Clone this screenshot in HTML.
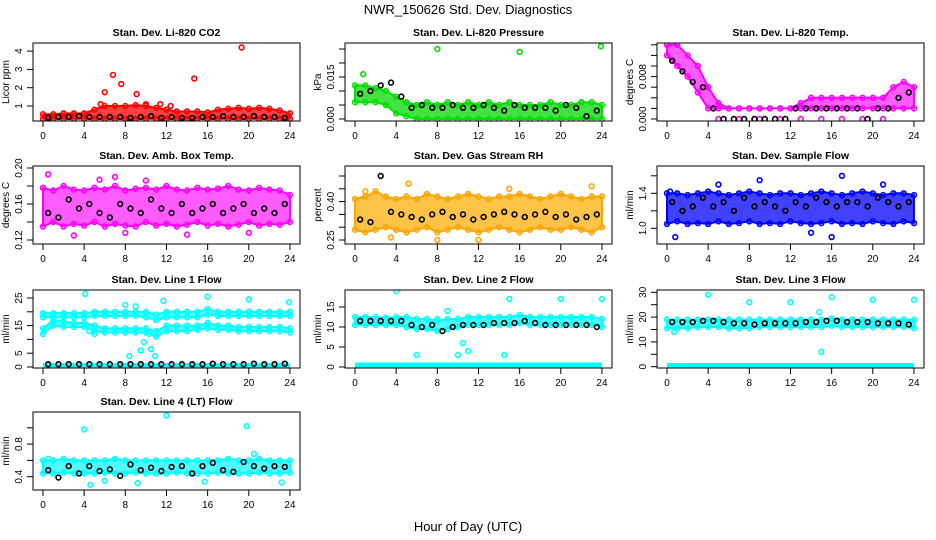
<!DOCTYPE html>
<html><head><meta charset="utf-8"><title>NWR_150626 Std. Dev. Diagnostics</title>
<style>html,body{margin:0;padding:0;background:#fff;}svg{display:block;font-family:"Liberation Sans",sans-serif;}</style>
</head><body>
<svg id="chart" width="936" height="540" viewBox="0 0 936 540" xmlns="http://www.w3.org/2000/svg">
<rect width="936" height="540" fill="#fff"/>
<text x="468" y="14" text-anchor="middle" font-size="13">NWR_150626  Std. Dev. Diagnostics</text>
<text x="468" y="531" text-anchor="middle" font-size="13">Hour of Day (UTC)</text>
</svg>
<script>
const hours=[0,1,2,3,4,5,6,7,8,9,10,11,12,13,14,15,16,17,18,19,20,21,22,23,24];
const halfHours=[0.5,1.5,2.5,3.5,4.5,5.5,6.5,7.5,8.5,9.5,10.5,11.5,12.5,13.5,14.5,15.5,16.5,17.5,18.5,19.5,20.5,21.5,22.5,23.5];
const xTicks=[0,4,8,12,16,20,24];

// Panel 1: CO2
const co2Hi=[0.55,0.55,0.6,0.6,0.6,0.8,1.0,1.0,1.0,1.05,1.0,0.9,0.8,0.7,0.7,0.7,0.65,0.8,0.85,0.9,0.85,0.9,0.85,0.75,0.6];
const co2Lo=[0.3,0.3,0.3,0.3,0.3,0.3,0.3,0.3,0.3,0.3,0.3,0.3,0.3,0.3,0.3,0.3,0.3,0.3,0.3,0.3,0.3,0.3,0.3,0.3,0.3];
const co2Black=[0.35,0.4,0.4,0.45,0.4,0.4,0.4,0.4,0.35,0.4,0.45,0.35,0.4,0.35,0.35,0.4,0.4,0.45,0.4,0.4,0.45,0.4,0.4,0.35];
const co2Out=[[5.6,1.1],[6,1.75],[6.8,2.7],[7.6,2.2],[9.1,1.65],[10,1.1],[11.4,1.1],[12.4,1.0],[14.7,2.5],[19.3,4.2]];
// Panel 2: Pressure
const presHi=[0.012,0.012,0.011,0.010,0.008,0.006,0.005,0.006,0.005,0.006,0.005,0.006,0.005,0.006,0.005,0.006,0.005,0.005,0.005,0.006,0.005,0.005,0.006,0.006,0.005];
const presLo=[0.006,0.006,0.006,0.005,0.002,0.001,0,0,0,0,0,0,0,0,0,0,0,0,0,0,0,0,0,0,0];
const presBlack=[0.009,0.010,0.012,0.013,0.008,0.004,0.005,0.004,0.004,0.005,0.004,0.004,0.005,0.004,0.003,0.005,0.004,0.004,0.004,0.003,0.005,0.004,0.001,0.003];
const presOut=[[0.8,0.016],[8,0.025],[16,0.024],[23.9,0.026]];
// Panel 3: Li-820 temp
const tempHi=[0.014,0.014,0.012,0.010,0.006,0.003,0.002,0.002,0.002,0.002,0.002,0.002,0.002,0.003,0.004,0.004,0.004,0.004,0.004,0.004,0.004,0.004,0.006,0.007,0.006];
const tempLo=[0.012,0.010,0.008,0.005,0.002,0.002,0.002,0.002,0.002,0.002,0.002,0.002,0.002,0.002,0.002,0.002,0.002,0.002,0.002,0.002,0.002,0.002,0.002,0.002,0.002];
const tempBlack=[0.011,0.009,0.007,0.006,0.002,0,0,0,0,0,0,0,0.002,0.002,0.002,0.002,0.002,0.002,0.002,0,0.002,0.002,0.004,0.005];
const tempOut=[[5,0],[7,0],[9,0],[11,0],[13,0],[15,0],[17,0],[19,0],[21,0]];
// Panel 4: Amb box temp
const ambHi=[0.178,0.175,0.18,0.176,0.175,0.178,0.176,0.18,0.175,0.177,0.178,0.176,0.18,0.176,0.175,0.178,0.176,0.177,0.18,0.176,0.175,0.178,0.176,0.175,0.17];
const ambLo=[0.135,0.14,0.135,0.138,0.136,0.14,0.135,0.138,0.136,0.135,0.14,0.136,0.138,0.135,0.137,0.14,0.136,0.138,0.135,0.137,0.14,0.136,0.138,0.137,0.14];
const ambBlack=[0.15,0.145,0.165,0.155,0.16,0.15,0.145,0.16,0.155,0.15,0.165,0.155,0.15,0.16,0.15,0.155,0.16,0.15,0.155,0.16,0.15,0.155,0.15,0.16];
const ambOut=[[0.5,0.193],[7,0.19],[10,0.186],[3,0.125],[8,0.128],[14,0.126],[20,0.128],[5.5,0.187]];
// Panel 5: RH
const rhHi=[0.41,0.42,0.44,0.42,0.41,0.42,0.41,0.43,0.42,0.41,0.42,0.43,0.42,0.41,0.42,0.42,0.43,0.42,0.41,0.42,0.43,0.42,0.41,0.42,0.42];
const rhLo=[0.29,0.28,0.29,0.3,0.29,0.28,0.29,0.3,0.28,0.29,0.3,0.29,0.28,0.29,0.3,0.29,0.28,0.29,0.3,0.29,0.29,0.3,0.29,0.28,0.3];
const rhBlack=[0.33,0.32,0.50,0.36,0.35,0.34,0.33,0.35,0.36,0.34,0.35,0.33,0.34,0.35,0.36,0.35,0.34,0.35,0.36,0.34,0.35,0.33,0.34,0.35];
const rhOut=[[1,0.44],[5.2,0.47],[3.5,0.26],[8,0.25],[15,0.45],[23,0.46],[12,0.25]];
// Panel 6: Sample flow
const sfHi=[1.4,1.4,1.38,1.4,1.42,1.4,1.38,1.4,1.42,1.4,1.38,1.4,1.4,1.38,1.4,1.42,1.4,1.38,1.4,1.42,1.4,1.38,1.4,1.4,1.38];
const sfLo=[1.05,1.08,1.05,1.06,1.05,1.08,1.05,1.06,1.08,1.05,1.06,1.05,1.08,1.06,1.05,1.06,1.08,1.05,1.06,1.05,1.08,1.06,1.05,1.08,1.06];
const sfBlack=[1.3,1.2,1.25,1.35,1.25,1.3,1.2,1.35,1.25,1.3,1.25,1.2,1.3,1.25,1.35,1.3,1.25,1.3,1.3,1.25,1.35,1.3,1.25,1.3];
const sfOut=[[0.3,1.42],[9,1.55],[17,1.6],[16,0.9],[0.8,0.9],[14,0.95],[5,1.5],[21,1.5]];
// Panel 7: Line 1
const l1UpHi=[19.5,19.5,19.5,19.5,19.5,20,20,20,20,20,20,19,20,20,20,20,21,20,20,20,20,20,20,20,20];
const l1UpLo=[18,18,18,18,18,18.5,18.5,18.5,18.5,18.5,18,17,18,18,18,18,19,18.5,18.5,18.5,18.5,18.5,18.5,18.5,18.5];
const l1LowHi=[14,17,16.5,16,16,15,14,14,14,14,14,13,15,15,15,15,16,15,15,14.5,14.5,14.5,14.5,14.5,14];
const l1LowLo=[12,15,14.5,14.5,14.5,13,12.5,12.5,12.5,12.5,12.5,11,13,13,13,13.5,14,13.5,13.5,13,13,13,13,13,12.5];
const l1Floor=[0.5,0.5,0.5,0.5,0.5,0.5,0.5,0.5,0.5,0.5,0.5,0.5,0.5,0.5,0.5,0.5,0.5,0.5,0.5,0.5,0.5,0.5,0.5,0.5,0.5];
const l1Black=[1,1,1,1,1,1,1,1,1,1,1,1,1,1,1,1,1.2,1,1,1,1.2,1,1,1.2];
const l1Out=[[4.1,26.5],[8,22.5],[9,22],[8.4,4],[9.5,6],[9.8,9],[10.5,6.5],[10.9,4],[10.3,12],[11.7,24],[16,25.5],[20,24.5],[23.9,23.5],[4.5,13],[5,12]];
// Panel 8: Line 2
const l2Hi=[12.5,12.5,12.5,12.3,12.5,12.5,12,12,11.5,12,12,12.5,12.5,12.5,12.5,12.5,13,12.5,12.5,12.5,12.5,12.5,12.5,12.5,12];
const l2Lo=[10.5,10.5,10.5,10.5,10.5,10,9.5,9.5,9,9.5,10,10.5,10.5,10.5,10.5,10.5,11,10.5,10.5,10.5,10.5,10.5,10.5,10.5,10];
const l2Floor=[0.5,0.5,0.5,0.5,0.5,0.5,0.5,0.5,0.5,0.5,0.5,0.5,0.5,0.5,0.5,0.5,0.5,0.5,0.5,0.5,0.5,0.5,0.5,0.5,0.5];
const l2Black=[11.5,11.5,11.5,11.5,11.5,10.5,10,10.5,9,10,10.5,10.5,10.5,11,11,11,11.5,11,10.5,10.5,10.5,10.5,10.5,10];
const l2Out=[[4,19],[8,12],[9,14],[10.5,6],[11,4],[10,3],[15,17],[20,17],[24,17],[6,3],[14.5,3]];
// Panel 9: Line 3
const l3Hi=[19,19,19,19,19,19,19,19,19,19,19,19,19,19,19,19,19.5,19,19,19,19,19,19,19,19];
const l3Lo=[15.5,15.5,15.5,16,16,16,15.5,15.5,15.5,16,16,16,16,16,16,16,16.5,16,16,16,16,16,16,16,15.5];
const l3Floor=[0.5,0.5,0.5,0.5,0.5,0.5,0.5,0.5,0.5,0.5,0.5,0.5,0.5,0.5,0.5,0.5,0.5,0.5,0.5,0.5,0.5,0.5,0.5,0.5,0.5];
const l3Black=[18,18,18,18.5,18.5,18,17.5,17.5,17,17.5,17.5,17.5,17.5,18,18,18.5,18.5,18,18,18,17.5,17.5,17.5,17];
const l3Out=[[4,29],[8,26],[12,26],[16,28],[20,27],[24,27],[15,6],[14.8,22],[0.7,14]];
// Panel 10: Line 4 (LT)
const l4Hi=[0.6,0.6,0.62,0.6,0.6,0.6,0.6,0.62,0.6,0.6,0.6,0.6,0.6,0.6,0.6,0.6,0.6,0.6,0.62,0.6,0.6,0.62,0.6,0.6,0.6];
const l4Lo=[0.44,0.44,0.45,0.44,0.44,0.44,0.45,0.44,0.44,0.45,0.44,0.44,0.44,0.45,0.44,0.44,0.44,0.45,0.44,0.44,0.44,0.45,0.44,0.44,0.45];
const l4Black=[0.48,0.39,0.53,0.44,0.53,0.47,0.49,0.41,0.55,0.48,0.51,0.47,0.52,0.53,0.44,0.53,0.57,0.48,0.46,0.58,0.53,0.5,0.53,0.52];
const l4Out=[[4,0.98],[12,1.15],[19.8,1.02],[0.5,0.62],[6,0.35],[9.2,0.32],[15.7,0.34],[20.5,0.68],[4.6,0.3],[23.2,0.33]];

const colLeft=[33,345,657];
const rowTop=[43,166,290,412];
const panels=[
 {name:'co2',title:'Stan. Dev. Li-820 CO2',yt:'Licor ppm',col:0,row:0,v0:1,p0:106,k:18.3,ticks:[1,2,3,4],labels:['1','2','3','4'],color:'#ff0000',fill:'#ff2020',bands:[[co2Lo,co2Hi]],floors:[],out:co2Out,black:co2Black},
 {name:'pressure',title:'Stan. Dev. Li-820 Pressure',yt:'kPa',col:1,row:0,v0:0,p0:119,k:2800,ticks:[0,0.005,0.01,0.015,0.02,0.025],labels:['0.000','','','0.015','',''],color:'#00e000',fill:'#22dd22',bands:[[presLo,presHi]],floors:[],out:presOut,black:presBlack},
 {name:'li820-temp',title:'Stan. Dev. Li-820 Temp.',yt:'degrees C',col:2,row:0,v0:0,p0:119,k:5300,ticks:[0,0.002,0.004,0.006,0.008,0.01,0.012,0.014],labels:['0.000','','','','0.008','','',''],color:'#ff00ff',fill:'#ff40ff',bands:[[tempLo,tempHi]],floors:[],out:tempOut,black:tempBlack},
 {name:'amb-box-temp',title:'Stan. Dev. Amb. Box Temp.',yt:'degrees C',col:0,row:1,v0:0.16,p0:204,k:900,ticks:[0.12,0.14,0.16,0.18,0.2],labels:['0.12','','0.16','','0.20'],color:'#ff00ff',fill:'#ff40ff',bands:[[ambLo,ambHi]],floors:[],out:ambOut,black:ambBlack},
 {name:'gas-stream-rh',title:'Stan. Dev. Gas Stream RH',yt:'percent',col:1,row:1,v0:0.25,p0:240,k:256,ticks:[0.25,0.3,0.35,0.4,0.45,0.5],labels:['0.25','','','0.40','',''],color:'#ffa500',fill:'#ffb828',bands:[[rhLo,rhHi]],floors:[],out:rhOut,black:rhBlack},
 {name:'sample-flow',title:'Stan. Dev. Sample Flow',yt:'ml/min',col:2,row:1,v0:1.4,p0:193.3,k:87.5,ticks:[1.0,1.2,1.4,1.6],labels:['1.0','','1.4',''],color:'#0000ff',fill:'#2020ff',bands:[[sfLo,sfHi]],floors:[],out:sfOut,black:sfBlack},
 {name:'line1-flow',title:'Stan. Dev. Line 1 Flow',yt:'ml/min',col:0,row:2,v0:0,p0:367,k:2.76,ticks:[0,5,10,15,20,25],labels:['0','5','','15','','25'],color:'#00ffff',fill:'#30ffff',bands:[[l1UpLo,l1UpHi],[l1LowLo,l1LowHi]],floors:[l1Floor],out:l1Out,black:l1Black},
 {name:'line2-flow',title:'Stan. Dev. Line 2 Flow',yt:'ml/min',col:1,row:2,v0:0,p0:367,k:4,ticks:[0,5,10,15],labels:['0','5','10','15'],color:'#00ffff',fill:'#30ffff',bands:[[l2Lo,l2Hi]],floors:[l2Floor],out:l2Out,black:l2Black},
 {name:'line3-flow',title:'Stan. Dev. Line 3 Flow',yt:'ml/min',col:2,row:2,v0:0,p0:366.7,k:2.48,ticks:[0,5,10,15,20,25,30],labels:['0','','10','','20','','30'],color:'#00ffff',fill:'#30ffff',bands:[[l3Lo,l3Hi]],floors:[l3Floor],out:l3Out,black:l3Black},
 {name:'line4-lt-flow',title:'Stan. Dev. Line 4 (LT) Flow',yt:'ml/min',col:0,row:3,v0:0.4,p0:476.7,k:81.5,ticks:[0.4,0.6,0.8,1.0],labels:['0.4','','0.8',''],color:'#00ffff',fill:'#30ffff',bands:[[l4Lo,l4Hi]],floors:[],out:l4Out,black:l4Black}
];
const NS='http://www.w3.org/2000/svg';
const svg=document.getElementById('chart');
function mk(tag,attrs,parent){const e=document.createElementNS(NS,tag);for(const a in attrs)e.setAttribute(a,attrs[a]);(parent||svg).appendChild(e);return e;}
panels.forEach(p=>{
 const L=colLeft[p.col],T=rowTop[p.row],W=267,H=78,B=T+H;
 const X=h=>L+10+h*10.29;
 const Y=v=>p.p0-(v-p.v0)*p.k;
 const g=mk('g',{});
 
 
 const clip=mk('clipPath',{id:'clip-'+p.name},g);
 mk('rect',{x:L,y:T,width:W,height:H},clip);
 const pg=mk('g',{'clip-path':'url(#clip-'+p.name+')'},g);
 
 
 p.bands.forEach(bd=>{
  const lo=bd[0],hi=bd[1];
  let pts=hours.map((h,i)=>X(h)+','+Y(hi[i]));
  pts=pts.concat(hours.slice().reverse().map((h,j)=>{const i=hours.length-1-j;return X(h)+','+Y(lo[i]);}));
  const poly=mk('polygon',{points:pts.join(' '),fill:p.fill,'fill-opacity':0.85,stroke:p.color,'stroke-width':2,'stroke-linejoin':'round'},pg);
  
  
  [lo,hi].forEach(arr=>hours.forEach((h,i)=>{
   const c=mk('circle',{cx:X(h),cy:Y(arr[i]),r:2.4,fill:'none',stroke:p.color,'stroke-width':1.6},pg);
   
   
  }));
 });
 p.floors.forEach(arr=>{
  const ln=mk('polyline',{points:hours.map((h,i)=>X(h)+','+Y(arr[i])).join(' '),fill:'none',stroke:p.color,'stroke-width':5},pg);
  
  
 });
 p.out.forEach(o=>{
  const c=mk('circle',{cx:X(o[0]),cy:Y(o[1]),r:2.4,fill:'none',stroke:p.color,'stroke-width':1.6},pg);
  
  
 });
 p.black.forEach((v,i)=>{
  const c=mk('circle',{cx:X(halfHours[i]),cy:Y(v),r:2.4,fill:'none',stroke:'#000','stroke-width':1.6},pg);
  
  
 });
 const box=mk('rect',{x:L,y:T,width:W,height:H,fill:'none',stroke:'#000','stroke-width':1},g);
 
 
 const t=mk('text',{x:L+W/2,y:T-7,'text-anchor':'middle','font-size':10.5,'font-weight':'bold'},g);
 t.textContent=p.title;
 
 
 xTicks.forEach(h=>{
  const tk=mk('line',{x1:X(h),x2:X(h),y1:B,y2:B+6,stroke:'#000'},g);
  
  
  const lb=mk('text',{x:X(h),y:B+18,'text-anchor':'middle','font-size':10},g);
  lb.textContent=h;
  
  
 });
 p.ticks.forEach((v,i)=>{
  const y=Y(v);
  const tk=mk('line',{x1:L-6,x2:L,y1:y,y2:y,stroke:'#000'},g);
  
  
  if(p.labels[i]){
   const lb=mk('text',{x:L-11,y:y,'text-anchor':'middle','font-size':10,transform:'rotate(-90 '+(L-11)+' '+y+')'},g);
   lb.textContent=p.labels[i];
   
   
  }
 });
 const yx=L-24,yy=T+H/2;
 const yt=mk('text',{x:yx,y:yy,'text-anchor':'middle','font-size':10,transform:'rotate(-90 '+yx+' '+yy+')'},g);
 yt.textContent=p.yt;
 
 
});
</script>
</body></html>
